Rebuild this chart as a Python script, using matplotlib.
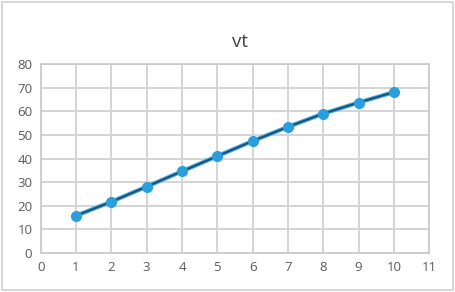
import numpy as np
import matplotlib
matplotlib.use("Agg")
import matplotlib.pyplot as plt
from matplotlib.patches import Rectangle

# Daten aus dem Diagramm
x_vals = [1, 2, 3, 4, 5, 6, 7, 8, 9, 10]
vt = [15.8, 21.7, 28.1, 34.6, 41.0, 47.4, 53.4, 59.0, 63.7, 68.1]
x_ticks = list(range(0, 12))
y_ticks = list(range(0, 90, 10))

plt.rcParams["font.family"] = ["Open Sans", "DejaVu Sans"]

fig = plt.figure(figsize=(4.56, 2.92), dpi=100)
ax = fig.add_axes([40.7 / 456, 1 - 253 / 292, (429.3 - 40.7) / 456, (253 - 64) / 292])

# Rahmen um das ganze Diagramm
fig.patches.append(Rectangle((0.004, 0.006), 0.99, 0.988, transform=fig.transFigure,
                             fill=False, edgecolor="#d0d0d0", linewidth=1.2))

# hellblaue Kontur unter der dunklen Linie
ax.plot(x_vals, vt, color="#3ea6de", linewidth=3.0, zorder=3)
ax.plot(x_vals, vt, color="#1d4f73", linewidth=1.4, zorder=4,
        marker="o", markersize=7, markerfacecolor="#2a9fdc", markeredgecolor="#2a9fdc")

ax.set_xlim(0, 11)
ax.set_ylim(0, 80)
ax.set_xticks(x_ticks)
ax.set_yticks(y_ticks)
ax.grid(True, color="#d4d4d4", linewidth=1.4)
ax.set_axisbelow(True)
for s in ax.spines.values():
    s.set_color("#c8c8c8")
    s.set_linewidth(1.2)
ax.tick_params(length=0, labelsize=9.5, colors="#595959", pad=6)

fig.text(0.527, 1 - 42 / 292, "vt", ha="center", va="center", fontsize=13.5, color="#404040")

fig.savefig("out.png", dpi=100)
